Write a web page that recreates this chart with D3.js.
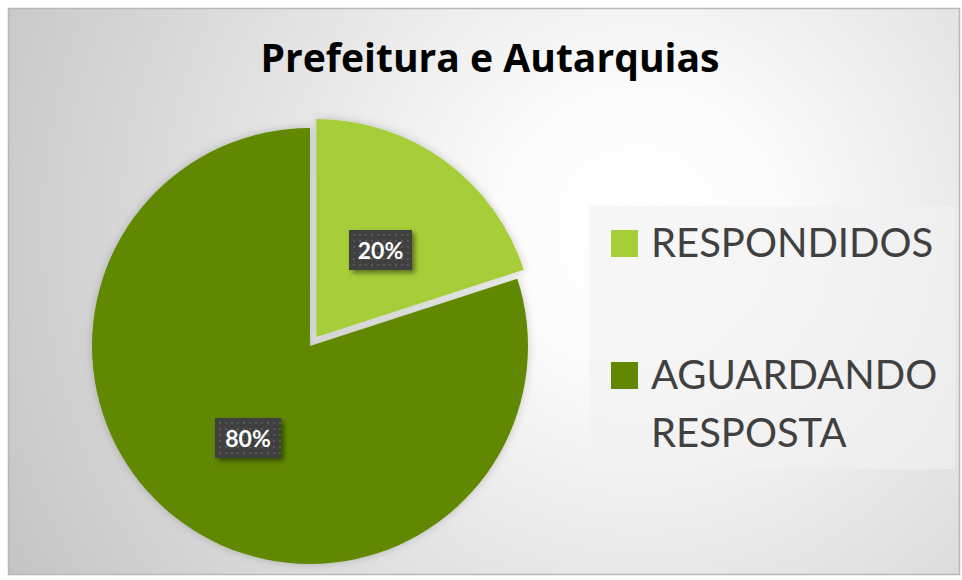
<!DOCTYPE html>
<html lang="pt">
<head>
<meta charset="UTF-8"/>
<title>Prefeitura e Autarquias</title>
<script src="https://d3js.org/d3.v7.min.js"></script>
<style>
    body { margin: 0; background: #fff; }
    text { font-family: Lato, "Open Sans", sans-serif; }
    .title { font-family: "Open Sans", Lato, sans-serif; font-weight: bold; font-size: 40px; fill: #000; }
    .legendText { font-size: 40px; fill: #404040; }
    .pctLabel { font-weight: bold; font-size: 23px; fill: #fff; }
</style>
</head>
<body>
<div id="chart"></div>
<script>
    var w = 962;
    var h = 580;

    var chartTitle = "Prefeitura e Autarquias";
    var categories = ["RESPONDIDOS", "AGUARDANDO RESPOSTA"];
    var values = [20, 80];
    var colors = ["#a6ce39", "#618800"];
    var legendLines = [["RESPONDIDOS"], ["AGUARDANDO", "RESPOSTA"]];

    var svg = d3.select("#chart")
        .append("svg")
        .attr("width", w)
        .attr("height", h);

    var defs = svg.append("defs");
    var grad = defs.append("radialGradient")
        .attr("id", "bg")
        .attr("gradientUnits", "userSpaceOnUse")
        .attr("cx", 640).attr("cy", 230).attr("r", 720);
    grad.append("stop").attr("offset", "0%").attr("stop-color", "#ffffff");
    grad.append("stop").attr("offset", "20%").attr("stop-color", "#fbfbfb");
    grad.append("stop").attr("offset", "100%").attr("stop-color", "#c4c4c4");

    var pat = defs.append("pattern")
        .attr("id", "dots")
        .attr("patternUnits", "userSpaceOnUse")
        .attr("width", 6).attr("height", 6);
    pat.append("rect").attr("width", 6).attr("height", 6).attr("fill", "#404040");
    pat.append("rect").attr("x", 2).attr("y", 2).attr("width", 2).attr("height", 2).attr("fill", "#595959");

    var shadow = defs.append("filter").attr("id", "shadow")
        .attr("x", "-30%").attr("y", "-30%").attr("width", "160%").attr("height", "160%");
    shadow.append("feDropShadow")
        .attr("dx", 3).attr("dy", 3).attr("stdDeviation", 2.5)
        .attr("flood-color", "#000").attr("flood-opacity", 0.45);

    var sliceShadow = defs.append("filter").attr("id", "sliceShadow")
        .attr("x", "-10%").attr("y", "-10%").attr("width", "120%").attr("height", "120%");
    sliceShadow.append("feDropShadow")
        .attr("dx", 0).attr("dy", 0).attr("stdDeviation", 4)
        .attr("flood-color", "#000").attr("flood-opacity", 0.2);

    // background + border
    svg.append("rect")
        .attr("x", 8.5).attr("y", 8.5)
        .attr("width", w - 11).attr("height", h - 14)
        .attr("fill", "url(#bg)")
        .attr("stroke", "#b8b8b8")
        .attr("stroke-width", 1.5);

    svg.append("text")
        .attr("class", "title")
        .attr("x", 490).attr("y", 72)
        .attr("text-anchor", "middle")
        .attr("textLength", 459)
        .attr("lengthAdjust", "spacingAndGlyphs")
        .text(chartTitle);

    // pie
    var cx = 310, cy = 346, r = 218, explode = 11;
    var pie = d3.pie().sort(null).value(d => d);
    var arcs = pie(values);
    var arc = d3.arc().innerRadius(0).outerRadius(r);

    var g = svg.append("g").attr("transform", `translate(${cx},${cy})`);

    function offset(d, i) {
        if (i !== 0) return [0, 0];
        var a = (d.startAngle + d.endAngle) / 2;
        return [Math.sin(a) * explode, -Math.cos(a) * explode];
    }

    g.selectAll("path.slice")
        .data(arcs)
        .enter()
        .append("path")
        .attr("class", "slice")
        .attr("d", arc)
        .attr("fill", (d, i) => colors[i])
        .attr("filter", "url(#sliceShadow)")
        .attr("transform", (d, i) => `translate(${offset(d, i)})`);

    var labelPos = [[71, -96], [-63, 92]];
    var lab = g.selectAll("g.lab")
        .data(arcs)
        .enter()
        .append("g")
        .attr("class", "lab")
        .attr("transform", (d, i) => `translate(${labelPos[i]})`);
    lab.append("rect")
        .attr("x", -32).attr("y", -20)
        .attr("width", (d, i) => i === 0 ? 63 : 66)
        .attr("height", 40)
        .attr("fill", "url(#dots)")
        .attr("filter", "url(#shadow)");
    lab.append("text")
        .attr("class", "pctLabel")
        .attr("x", (d, i) => i === 0 ? -0.5 : 1)
        .attr("y", 8.5)
        .attr("text-anchor", "middle")
        .text(d => d.data + "%");

    // legend
    svg.append("rect")
        .attr("x", 589).attr("y", 206)
        .attr("width", 366).attr("height", 263)
        .attr("fill", "#f2f2f2").attr("opacity", 0.6);

    var legendY = [257, 389];
    var leg = svg.selectAll("g.leg")
        .data(categories)
        .enter()
        .append("g")
        .attr("class", "leg");
    leg.append("rect")
        .attr("x", 611)
        .attr("y", (d, i) => legendY[i] - 27)
        .attr("width", 27).attr("height", 27)
        .attr("fill", (d, i) => colors[i]);
    leg.each(function(d, i) {
        var t = d3.select(this).append("text")
            .attr("class", "legendText")
            .attr("x", 651)
            .attr("y", legendY[i]);
        legendLines[i].forEach((line, j) => {
            t.append("tspan")
                .attr("x", 651)
                .attr("dy", j === 0 ? 0 : 58)
                .text(line);
        });
    });
</script>
</body>
</html>
